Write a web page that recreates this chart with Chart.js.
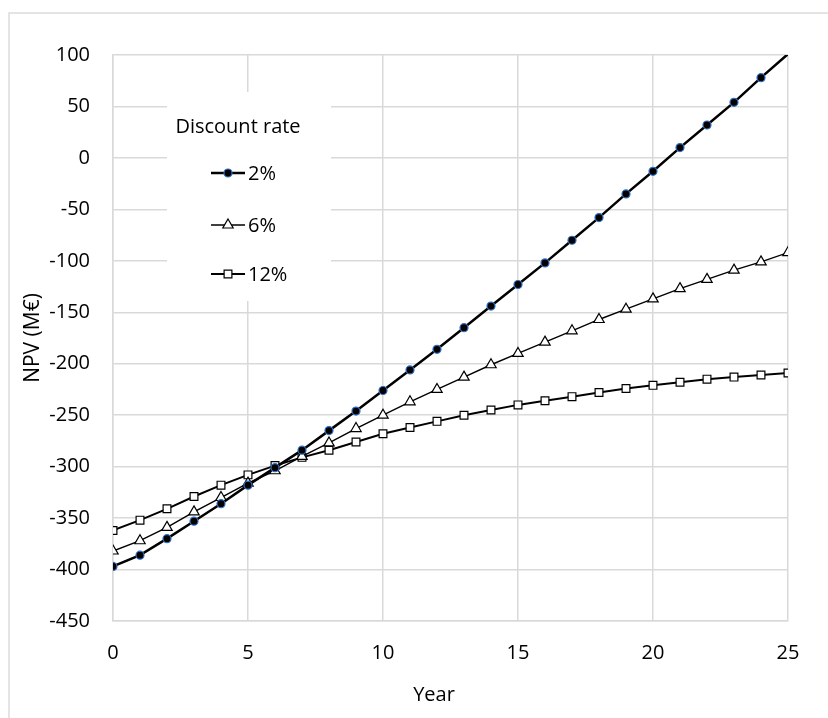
<!DOCTYPE html>
<html>
<head>
<meta charset="utf-8">
<script src="https://cdn.jsdelivr.net/npm/chart.js@4/dist/chart.umd.min.js"></script>
<style>
  html, body { margin: 0; padding: 0; background: #fff; }
  #wrap { width: 828px; height: 718px; }
</style>
</head>
<body>
<div id="wrap"><canvas id="npvChart" width="828" height="718"></canvas></div>
<script>
// -------- data --------
const years = [0, 1, 2, 3, 4, 5, 6, 7, 8, 9, 10, 11, 12, 13, 14, 15, 16, 17, 18, 19, 20, 21, 22, 23, 24, 25];
const npv2 = [-397, -386, -370, -353, -336, -318, -301, -284, -265, -246, -226, -206, -186, -165, -144, -123, -102, -80, -58, -35, -13, 10, 32, 54, 78, 101];
const npv6 = [-382, -372, -359, -344, -330, -316, -304, -290, -277, -263, -250, -237, -225, -213, -201, -190, -179, -168, -157, -147, -137, -127, -118, -109, -101, -92];
const npv12 = [-362, -352, -341, -329, -318, -308, -299, -291, -284, -276, -268, -262, -256, -250, -245, -240, -236, -232, -228, -224, -221, -218, -215, -213, -211, -209];
const rateLabels = ['2%', '6%', '12%'];
const xTicks = [0, 5, 10, 15, 20, 25];
const yTicks = [100, 50, 0, -50, -100, -150, -200, -250, -300, -350, -400, -450];

const FONT = "'Open Sans', sans-serif";
const GRID = '#d9d9d9';

function toPoints(vals) {
  return years.map((y, i) => ({ x: y, y: vals[i] }));
}

// points above the top of the axis are not shown (like the reference)
const hideOutside = ctx => (ctx.raw && ctx.raw.y > yTicks[0]) ? 0 : ctx.dataset.baseRadius;

const datasets = [
  {
    label: rateLabels[0],
    data: toPoints(npv2),
    borderColor: '#000',
    borderWidth: 2.5,
    pointStyle: 'circle',
    baseRadius: 4,
    pointRadius: hideOutside,
    pointBackgroundColor: '#000',
    pointBorderColor: '#2f6fc4',
    pointBorderWidth: 1.2
  },
  {
    label: rateLabels[1],
    data: toPoints(npv6),
    borderColor: '#000',
    borderWidth: 1.4,
    pointStyle: 'triangle',
    baseRadius: 6,
    pointRadius: hideOutside,
    pointBackgroundColor: '#fff',
    pointBorderColor: '#000',
    pointBorderWidth: 1.2
  },
  {
    label: rateLabels[2],
    data: toPoints(npv12),
    borderColor: '#000',
    borderWidth: 2,
    pointStyle: 'rect',
    baseRadius: 5.5,
    pointRadius: hideOutside,
    pointBackgroundColor: '#fff',
    pointBorderColor: '#000',
    pointBorderWidth: 1.2
  }
];

// outer gray frame of the figure
const framePlugin = {
  id: 'frame',
  beforeDraw(chart) {
    const c = chart.ctx;
    c.save();
    c.fillStyle = '#fff';
    c.fillRect(0, 0, chart.width, chart.height);
    c.strokeStyle = '#dcdcdc';
    c.lineWidth = 1.5;
    c.beginPath();
    c.moveTo(9, chart.height + 5);
    c.lineTo(9, 13);
    c.lineTo(chart.width + 5, 13);
    c.stroke();
    c.restore();
  }
};

// legend drawn inside the plot, with a white box that hides the grid behind it
// plus the x axis title, which sits a bit left of the plot centre in the reference
const legendPlugin = {
  id: 'insideLegend',
  afterDatasetsDraw(chart) {
    const c = chart.ctx;
    c.save();
    c.fillStyle = '#fff';
    c.fillRect(167, 92, 164, 209);
    c.fillStyle = '#000';
    c.font = '20px ' + FONT;
    c.textAlign = 'center';
    c.textBaseline = 'middle';
    c.fillText('Discount rate', 238, 127);
    c.fillText('Year', 434, 695);
    const rows = [173, 225, 274];
    chart.data.datasets.forEach((ds, i) => {
      const y = rows[i];
      c.strokeStyle = ds.borderColor;
      c.lineWidth = ds.borderWidth;
      c.beginPath();
      c.moveTo(211, y);
      c.lineTo(245, y);
      c.stroke();
      c.fillStyle = ds.pointBackgroundColor;
      c.strokeStyle = ds.pointBorderColor;
      c.lineWidth = ds.pointBorderWidth;
      Chart.helpers.drawPoint(c, { pointStyle: ds.pointStyle, radius: ds.baseRadius, rotation: 0, borderWidth: ds.pointBorderWidth }, 228, y);
      c.fillStyle = '#000';
      c.textAlign = 'left';
      c.fillText(ds.label, 248, y + 1);
    });
    c.restore();
  }
};

const ctx = document.getElementById('npvChart').getContext('2d');
new Chart(ctx, {
  type: 'line',
  data: { datasets: datasets },
  options: {
    responsive: false,
    animation: false,
    devicePixelRatio: 1,
    layout: { padding: { top: 55, right: 40, left: 0, bottom: 0 } },
    plugins: { legend: { display: false }, tooltip: { enabled: false } },
    scales: {
      x: {
        type: 'linear',
        min: xTicks[0],
        max: xTicks[xTicks.length - 1],
        afterBuildTicks(scale) { scale.ticks = xTicks.map(v => ({ value: v })); },
        afterFit(scale) { scale.height = 97; },
        grid: { color: GRID, lineWidth: 1.5, drawTicks: false },
        border: { color: GRID, width: 1.5 },
        ticks: { color: '#000', font: { family: FONT, size: 20 }, padding: 20 },
        title: { display: false }
      },
      y: {
        type: 'linear',
        min: yTicks[yTicks.length - 1],
        max: yTicks[0],
        afterBuildTicks(scale) { scale.ticks = yTicks.map(v => ({ value: v })); },
        afterFit(scale) { scale.width = 113; },
        grid: { color: GRID, lineWidth: 1.5, drawTicks: false },
        border: { color: GRID, width: 1.5 },
        ticks: { color: '#000', font: { family: FONT, size: 20 }, padding: 23 },
        title: { display: true, text: 'NPV (M€)', color: '#000', font: { family: FONT, size: 21 }, padding: { top: 20, bottom: 0 } }
      }
    }
  },
  plugins: [framePlugin, legendPlugin]
});
</script>
</body>
</html>
